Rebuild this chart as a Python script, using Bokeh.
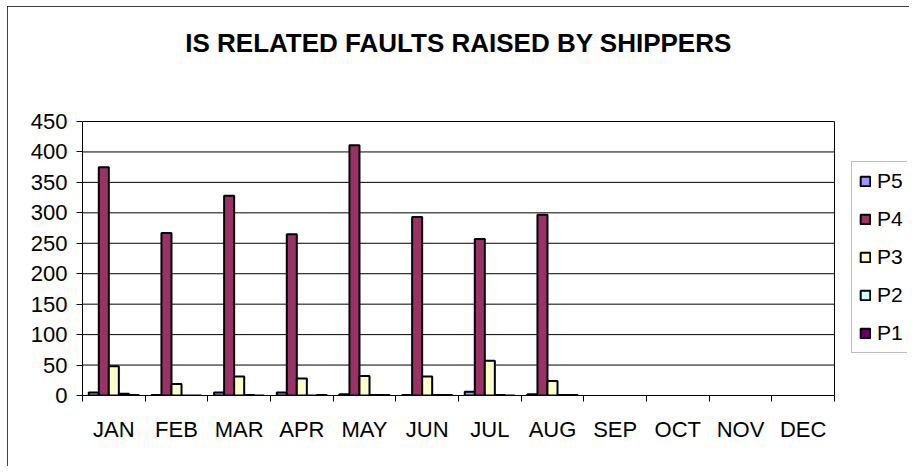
from bokeh.plotting import figure
from bokeh.models import (ColumnDataSource, Range1d, FixedTicker, Legend, LegendItem, Label)
from bokeh.transform import dodge
from bokeh.embed import file_html
from bokeh.resources import INLINE

title_text = "IS RELATED FAULTS RAISED BY SHIPPERS"
months = ["JAN", "FEB", "MAR", "APR", "MAY", "JUN", "JUL", "AUG", "SEP", "OCT", "NOV", "DEC"]
data_months = ["JAN", "FEB", "MAR", "APR", "MAY", "JUN", "JUL", "AUG"]
series_names = ["P5", "P4", "P3", "P2", "P1"]
p5 = [5, 1, 5, 5, 2, 1, 6, 2]
p4 = [375, 267, 328, 265, 411, 293, 257, 297]
p3 = [48, 19, 31, 28, 32, 31, 57, 24]
p2 = [3, 0, 1, 0, 1, 1, 1, 1]
p1 = [1, 0, 0, 1, 1, 1, 0, 1]
colors = ["#9999FF", "#993366", "#FFFFCC", "#CCFFFF", "#660066"]
y_ticks = list(range(0, 451, 50))
y_max = 450

FONT = "Liberation Sans"

# layout (pixels inside the figure)
W, H = 902, 460
BL, BR, BT, BB = 75, 2, 2, 71
FRAME_W = W - BL - BR
FRAME_H = H - BT - BB
PLOT_W = 752          # visible plot-area width
PLOT_H = 274          # visible plot-area height (0..450)
n = len(months)
y_top = y_max * FRAME_H / PLOT_H
px_per_unit = PLOT_H / y_max
title_y = y_max + 79 / px_per_unit   # title centre 79px above plot-area top

src = ColumnDataSource(dict(
    x=[months.index(m) + 0.5 for m in data_months],
    P5=p5, P4=p4, P3=p3, P2=p2, P1=p1,
))

p = figure(width=W, height=H, output_backend="svg", toolbar_location=None,
           x_range=Range1d(0, n * FRAME_W / PLOT_W), y_range=Range1d(0, y_top),
           min_border_left=BL, min_border_right=BR, min_border_top=BT,
           min_border_bottom=BB)
p.styles = {"margin-left": "7px", "margin-top": "6px",
            "outline": "1px solid black", "outline-offset": "-1px"}
p.background_fill_color = "white"
p.border_fill_color = "white"
p.outline_line_color = None

# plot-area grid lines and right border
p.xgrid.grid_line_color = None
p.ygrid.grid_line_color = None
p.segment(x0=[0] * len(y_ticks), x1=[n] * len(y_ticks), y0=y_ticks, y1=y_ticks,
          line_color="black", line_width=1)
p.segment(x0=[n], x1=[n], y0=[0], y1=[y_max], line_color="black", line_width=1)

bw = 0.16
offsets = [-2 * bw, -bw, 0, bw, 2 * bw]
items = []
for name, col, off in zip(series_names, colors, offsets):
    r = p.vbar(x=dodge("x", off, range=p.x_range), top=name, bottom=0, width=bw,
               source=src, fill_color=col, line_color="black", line_width=2)
    items.append(LegendItem(label=name, renderers=[r]))

# axes
p.yaxis.bounds = (0, y_max)
p.yaxis.ticker = FixedTicker(ticks=y_ticks)
p.yaxis.major_tick_out = 6
p.yaxis.major_tick_in = 0
p.yaxis.minor_tick_line_color = None
p.yaxis.axis_line_color = "black"
p.yaxis.major_tick_line_color = "black"
p.yaxis.major_label_text_font = FONT
p.yaxis.major_label_text_font_size = "22px"
p.yaxis.major_label_text_color = "black"
p.yaxis.major_label_standoff = 9

p.xaxis.bounds = (0, n)
p.xaxis.ticker = FixedTicker(ticks=[i + 0.5 for i in range(n)],
                             minor_ticks=list(range(n + 1)))
p.xaxis.major_label_overrides = {i + 0.5: m for i, m in enumerate(months)}
p.xaxis.major_tick_line_color = None
p.xaxis.major_tick_out = 0
p.xaxis.major_tick_in = 0
p.xaxis.minor_tick_line_color = "black"
p.xaxis.minor_tick_out = 6
p.xaxis.minor_tick_in = 0
p.xaxis.axis_line_color = "black"
p.xaxis.major_label_text_font = FONT
p.xaxis.major_label_text_font_size = "22px"
p.xaxis.major_label_text_color = "black"
p.xaxis.major_label_standoff = 15

p.add_layout(Label(x=n / 2, y=title_y, text=title_text, text_align="center",
                   text_baseline="middle", text_font=FONT, text_font_size="26px",
                   text_font_style="bold", text_color="black"))

legend = Legend(items=items, location=(769, 42), orientation="vertical",
                label_text_font=FONT, label_text_font_size="21px",
                label_text_color="black", glyph_width=12, glyph_height=12,
                label_height=20, label_width=20, spacing=14, padding=7, margin=0,
                label_standoff=6, border_line_color="#808080",
                border_line_width=1, background_fill_color="white",
                background_fill_alpha=1)
p.add_layout(legend, "center")

open("out.html", "w").write(file_html(p, INLINE))
